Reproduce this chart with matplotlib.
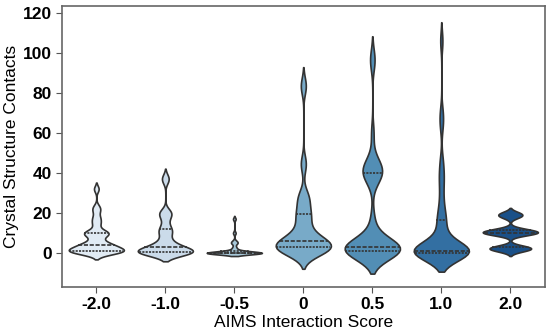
import numpy as np
import pandas as pd
import matplotlib
matplotlib.use("Agg")
import matplotlib.pyplot as plt
from matplotlib.collections import LineCollection
import seaborn as sns

# contact counts per AIMS interaction score
scores = ["-2.0", "-1.0", "-0.5", "0", "0.5", "1.0", "2.0"]
contacts_m20 = [0, 0, 0, 1, 1, 1, 1, 1, 1, 2, 2, 3, 3, 4, 4, 4, 5, 6, 8, 9,
                10, 10, 10, 11, 14, 16, 18, 21, 23, 32]
contacts_m10 = [0, 0, 0, 0, 0, 0, 0, 0, 1, 1, 1, 2, 2, 2, 3, 3, 4, 5, 6, 8,
                10, 11, 12, 14, 17, 19, 20, 21, 36, 38]
contacts_m05 = [0] * 20 + [1, 1, 2, 3, 5, 5, 6, 10, 17]
contacts_00 = [0, 0, 1, 1, 1, 2, 2, 2, 2, 2, 3, 3, 3, 4, 4, 5, 5, 5, 6, 6,
               6, 7, 8, 9, 10, 12, 14, 16, 18, 19, 20, 22, 25, 27, 28, 30,
               43, 46, 82, 85]
contacts_05 = [0, 0, 0, 0, 1, 1, 1, 1, 1, 1, 1, 2, 2, 2, 2, 3, 3, 3, 3, 3,
               3, 4, 5, 6, 8, 12, 18, 35, 38, 40, 40, 40, 41, 42, 43, 45,
               48, 60, 95, 98]
contacts_10 = [0] * 12 + [1] * 9 + [2, 2, 3, 4, 5, 7, 10, 13, 16, 17, 20,
                                   24, 30, 36, 40, 46, 64, 70, 106]
contacts_20 = [1, 2, 2, 3, 3, 9, 10, 10, 10, 11, 11, 12, 18, 19, 20]

groups = [contacts_m20, contacts_m10, contacts_m05, contacts_00,
          contacts_05, contacts_10, contacts_20]
df = pd.DataFrame({
    "score": np.repeat(scores, [len(g) for g in groups]),
    "contacts": np.concatenate(groups),
})

plt.rcParams["font.family"] = ["Liberation Sans", "DejaVu Sans"]

fig = plt.figure(figsize=(5.52, 3.28), dpi=100)
ax = fig.add_axes([0.112, 0.125, 0.875, 0.857])

sns.violinplot(data=df, x="score", y="contacts", order=scores,
               hue="score", hue_order=scores, palette="Blues", legend=False,
               inner="quart", density_norm="width", bw_method=0.2, cut=2,
               linewidth=1.2, linecolor="#333333", width=0.8, ax=ax)

# old-style quartiles: dotted q25/q75, dashed median
for coll in ax.collections:
    if isinstance(coll, LineCollection):
        n = len(coll.get_segments())
        styles = [(0, (1.5, 1.5)), (0, (4, 2.5)), (0, (1.5, 1.5))] * (n // 3)
        coll.set_linestyles(styles)
        coll.set_color("#222222")
        coll.set_linewidth(1.2)

ax.set_ylim(-17, 123.5)
ax.set_yticks([0, 20, 40, 60, 80, 100, 120])
ax.set_xlabel("AIMS Interaction Score", fontsize=12.5)
ax.xaxis.set_label_coords(0.5, -0.098)
ax.set_ylabel("Crystal Structure Contacts", fontsize=12.5, labelpad=3)
ax.tick_params(labelsize=12.5, length=4, pad=3, color="#555555")
for lab in ax.get_xticklabels() + ax.get_yticklabels():
    lab.set_fontweight("bold")
for sp in ax.spines.values():
    sp.set_color("#666666")
    sp.set_linewidth(1.2)

fig.savefig("out.png", dpi=100)
